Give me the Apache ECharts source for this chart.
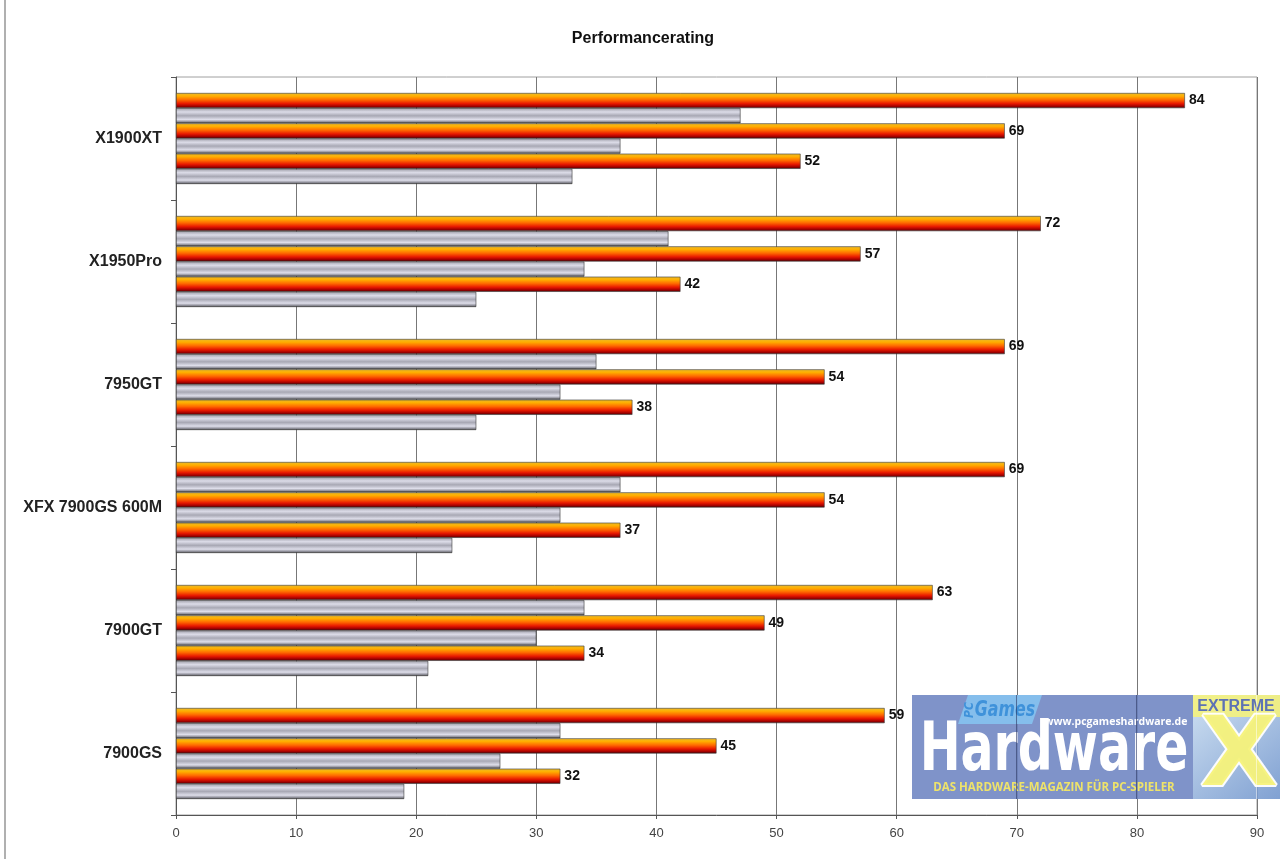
<!DOCTYPE html>
<html><head><meta charset="utf-8">
<script src="https://cdn.jsdelivr.net/npm/echarts@6/dist/echarts.min.js"></script>
<style>html,body{margin:0;padding:0;background:#fff}#c{width:1280px;height:859px}</style>
</head><body><div id="c"></div>
<script>
const categories = ['X1900XT','X1950Pro','7950GT','XFX 7900GS 600M','7900GT','7900GS'];
const orangeA = [84,72,69,69,63,59];
const greyA   = [47,41,35,37,34,32];
const orangeB = [69,57,54,54,49,45];
const greyB   = [37,34,32,32,30,27];
const orangeC = [52,42,38,37,34,32];
const greyC   = [33,25,25,23,21,19];
const xTicks = {min:0, max:90, interval:10};

const FONT = '"Liberation Sans", Arial, sans-serif';
const orangeGrad = new echarts.graphic.LinearGradient(0,0,0,1,[
  {offset:0,color:'#e8b830'},{offset:0.2,color:'#ffb000'},{offset:0.45,color:'#ff6a00'},
  {offset:0.7,color:'#e81800'},{offset:0.88,color:'#a00000'},{offset:1,color:'#400000'}]);
const greyGrad = new echarts.graphic.LinearGradient(0,0,0,1,[
  {offset:0,color:'#9c9ca6'},{offset:0.25,color:'#dcdce8'},{offset:0.5,color:'#a8a8b4'},
  {offset:0.75,color:'#dedeea'},{offset:0.9,color:'#8c8c96'},{offset:1,color:'#303030'}]);

function mk(name, data, orange){
  return {
    name, type:'bar', data, barGap:'0%', barCategoryGap:'26%',
    itemStyle:{color: orange?orangeGrad:greyGrad, borderColor:'#3a3a3a', borderWidth:0.6},
    label: orange ? {show:true, position:'right', distance:4, color:'#111',
      fontFamily:FONT, fontWeight:'bold', fontSize:14} : {show:false},
    emphasis:{disabled:true}, animation:false
  };
}

const OP = 0.88;
const chart = echarts.init(document.getElementById('c'));
chart.setOption({
  backgroundColor:'#fff',
  animation:false,
  title:{text:'Performancerating', left:638, top:26, textAlign:'center',
    textStyle:{fontFamily:FONT, fontSize:16, fontWeight:'bold', color:'#111'}},
  grid:{left:176, right:23, top:77, bottom:44, show:true, borderColor:'#a0a0a0', borderWidth:1},
  xAxis:{type:'value', min:xTicks.min, max:xTicks.max, interval:xTicks.interval,
    axisLine:{show:true, lineStyle:{color:'#555'}},
    axisTick:{show:true, length:4, lineStyle:{color:'#555'}},
    axisLabel:{color:'#444', fontFamily:FONT, fontSize:13, margin:12},
    splitLine:{show:true, lineStyle:{color:'#777', width:1}}},
  yAxis:{type:'category', data:categories, inverse:true,
    axisLine:{show:true, lineStyle:{color:'#555'}},
    axisTick:{show:true, length:5, lineStyle:{color:'#555'}},
    axisLabel:{color:'#222', fontFamily:FONT, fontSize:16, fontWeight:'bold', margin:14},
    splitLine:{show:false}},
  series:[mk('A',orangeA,true),mk('a',greyA,false),mk('B',orangeB,true),
          mk('b',greyB,false),mk('C',orangeC,true),mk('c',greyC,false)],
  graphic:[
    {type:'line', shape:{x1:5,y1:0,x2:5,y2:859}, style:{stroke:'#b0b0b0', lineWidth:2}, z:100},
    {type:'rect', shape:{x:912,y:695,width:281,height:104}, style:{fill:'#6d84c2', opacity:OP}, z:50},
    {type:'rect', shape:{x:1193,y:695,width:87,height:104},
      style:{fill:new echarts.graphic.LinearGradient(0,0,1,1,[{offset:0,color:'#c8dcf0'},{offset:1,color:'#6f94cc'}]), opacity:OP}, z:50},
    {type:'rect', shape:{x:1193,y:695,width:87,height:22}, style:{fill:'#f6f27a', opacity:OP}, z:51},
    {type:'text', x:1236, y:707, style:{text:'EXTREME', fill:'#5d72b4', font:'bold 16px '+FONT, align:'center', verticalAlign:'middle'}, z:52},
    {type:'text', x:1239, y:760, scaleX:1.05, style:{text:'X', fill:'#f6f27a', stroke:'#ffffff', lineWidth:4, font:'bold 96px "DejaVu Sans", sans-serif', align:'center', verticalAlign:'middle', opacity:0.95}, z:52},
    {type:'polygon', shape:{points:[[968,695],[1042,695],[1032,724],[958,724]]}, style:{fill:'#86c4f0', opacity:OP}, z:51},
    {type:'text', x:970, y:710, rotation:Math.PI/2, style:{text:'PC', fill:'#3f92da', font:'italic bold 12px "DejaVu Sans Condensed", sans-serif', align:'center', verticalAlign:'middle'}, z:52},
    {type:'text', x:1005, y:710, scaleX:0.8, style:{text:'Games', fill:'#3f92da', font:'italic bold 22px "DejaVu Sans Condensed", sans-serif', align:'center', verticalAlign:'middle'}, z:52},
    {type:'text', x:1116, y:722, style:{text:'www.pcgameshardware.de', fill:'#ffffff', font:'bold 10.5px "Open Sans", sans-serif', align:'center', verticalAlign:'middle'}, z:52},
    {type:'text', x:1054, y:752, scaleX:0.8, style:{text:'Hardware', fill:'#ffffff', font:'bold 68px "DejaVu Sans Condensed", sans-serif', align:'center', verticalAlign:'middle'}, z:52},
    {type:'text', x:1054, y:788, style:{text:'DAS HARDWARE-MAGAZIN FÜR PC-SPIELER', fill:'#eee36a', font:'bold 11.5px "Open Sans", sans-serif', align:'center', verticalAlign:'middle'}, z:52},
    {type:'line', shape:{x1:1016.5,y1:695,x2:1016.5,y2:799}, style:{stroke:'#2a3560', lineWidth:1, opacity:0.6}, z:53},
    {type:'line', shape:{x1:1136.5,y1:695,x2:1136.5,y2:799}, style:{stroke:'#2a3560', lineWidth:1, opacity:0.6}, z:53},
    {type:'line', shape:{x1:1256.5,y1:695,x2:1256.5,y2:799}, style:{stroke:'#ffffff', lineWidth:1, opacity:0.5}, z:53}
  ]
});
</script></body></html>
